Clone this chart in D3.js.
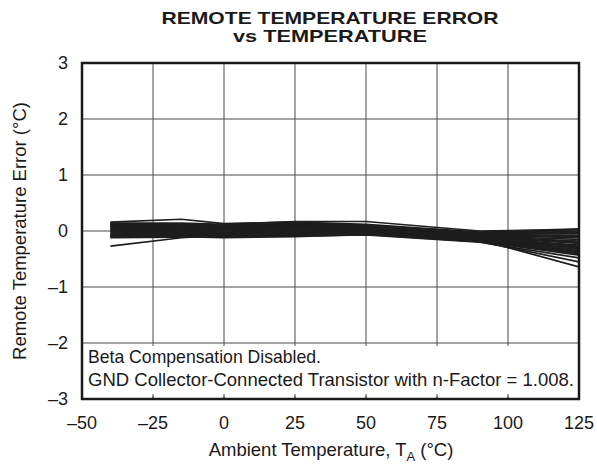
<!DOCTYPE html>
<html><head><meta charset="utf-8">
<script src="https://cdn.jsdelivr.net/npm/d3@7"></script>
<style>body{margin:0;background:#fff}svg{display:block}text{font-family:"Liberation Sans",Arial,sans-serif;fill:#1a1a1a}</style>
</head><body><svg id="c" width="597" height="466"></svg>
<script>
const temps = [-40, -15, 0, 25, 50, 90, 125];
const s01 = [0.16, 0.21, 0.13, 0.16, 0.12, -0.02, 0.04];
const s02 = [0.14, 0.14, 0.12, 0.17, 0.17, 0.00, 0.02];
const s03 = [0.13, 0.12, 0.10, 0.14, 0.10, -0.03, 0.00];
const s04 = [0.12, 0.11, 0.11, 0.13, 0.09, -0.04, -0.02];
const s05 = [0.10, 0.10, 0.08, 0.12, 0.08, -0.05, -0.05];
const s06 = [0.09, 0.09, 0.09, 0.10, 0.07, -0.06, -0.08];
const s07 = [0.08, 0.07, 0.06, 0.11, 0.06, -0.07, -0.10];
const s08 = [0.07, 0.08, 0.07, 0.09, 0.05, -0.08, -0.12];
const s09 = [0.05, 0.06, 0.04, 0.08, 0.05, -0.09, -0.15];
const s10 = [0.04, 0.04, 0.05, 0.06, 0.04, -0.10, -0.18];
const s11 = [0.03, 0.03, 0.02, 0.05, 0.03, -0.10, -0.20];
const s12 = [0.02, 0.01, 0.03, 0.04, 0.02, -0.11, -0.22];
const s13 = [0.00, 0.00, 0.00, 0.02, 0.01, -0.12, -0.25];
const s14 = [-0.01, -0.02, 0.01, 0.01, 0.00, -0.12, -0.27];
const s15 = [-0.02, -0.03, -0.02, 0.00, 0.00, -0.13, -0.29];
const s16 = [-0.04, -0.04, -0.03, -0.02, -0.01, -0.14, -0.31];
const s17 = [-0.05, -0.05, -0.05, -0.03, -0.02, -0.15, -0.33];
const s18 = [-0.06, -0.07, -0.06, -0.04, -0.02, -0.16, -0.35];
const s19 = [-0.08, -0.06, -0.08, -0.06, -0.03, -0.17, -0.37];
const s20 = [-0.09, -0.08, -0.09, -0.07, -0.04, -0.18, -0.39];
const s21 = [-0.10, -0.09, -0.11, -0.08, -0.05, -0.18, -0.41];
const s22 = [-0.11, -0.10, -0.12, -0.10, -0.06, -0.19, -0.43];
const s23 = [-0.12, -0.11, -0.10, -0.09, -0.07, -0.20, -0.48];
const s24 = [-0.27, -0.12, -0.08, -0.05, -0.04, -0.19, -0.55];
const s25 = [0.11, 0.09, 0.07, 0.08, 0.06, -0.16, -0.64];
const s26 = [0.06, 0.05, 0.06, 0.07, 0.03, -0.11, -0.30];
const series = [s01,s02,s03,s04,s05,s06,s07,s08,s09,s10,s11,s12,s13,s14,s15,s16,s17,s18,s19,s20,s21,s22,s23,s24,s25,s26];
const xTicks = [-50, -25, 0, 25, 50, 75, 100, 125];
const yTicks = [-3, -2, -1, 0, 1, 2, 3];
const titleLines = ["REMOTE TEMPERATURE ERROR", "vs TEMPERATURE"];
const notes = ["Beta Compensation Disabled.", "GND Collector-Connected Transistor with n-Factor = 1.008."];

const svg = d3.select("#c");
const L = 82, R = 579, T = 63, B = 399;
const x = d3.scaleLinear().domain([-50, 125]).range([L, R]);
const y = d3.scaleLinear().domain([-3, 3]).range([B, T]);
const fmt = v => v < 0 ? "\u2013" + Math.abs(v) : String(v);

// grid
const g = svg.append("g");
g.selectAll(".vg").data(xTicks.slice(1, -1)).join("line")
  .attr("x1", d => x(d)).attr("x2", d => x(d)).attr("y1", T).attr("y2", B)
  .attr("stroke", "#4a4a4a").attr("stroke-width", 1);
g.selectAll(".hg").data(yTicks.slice(1, -1)).join("line")
  .attr("x1", L).attr("x2", R).attr("y1", d => y(d)).attr("y2", d => y(d))
  .attr("stroke", "#4a4a4a").attr("stroke-width", 1);

// annotation box (covers grid between -2 and -3)
svg.append("rect").attr("x", L + 1).attr("y", y(-2) + 3).attr("width", R - L - 2).attr("height", y(-3) - y(-2) - 6).attr("fill", "#fff");
svg.selectAll(".bt").data(xTicks.slice(1, -1)).join("line")
  .attr("x1", d => x(d)).attr("x2", d => x(d)).attr("y1", B).attr("y2", B - 5)
  .attr("stroke", "#4a4a4a");

notes.forEach((t, i) => svg.append("text").attr("x", L + 6).attr("y", 363 + i * 23)
  .attr("font-size", 18.5).attr("textLength", i === 0 ? 233 : 486).attr("lengthAdjust", "spacingAndGlyphs").text(t));

// lines
svg.append("clipPath").attr("id", "clip").append("rect").attr("x", L).attr("y", T).attr("width", R - L).attr("height", B - T);
const line = d3.line().x((d, i) => x(temps[i])).y(d => y(d));
svg.append("g").attr("clip-path", "url(#clip)").selectAll("path").data(series).join("path")
  .attr("d", line).attr("fill", "none").attr("stroke", "#1e1e1e").attr("stroke-width", 1.7)
  .attr("stroke-linejoin", "round");

// frame
svg.append("rect").attr("x", L).attr("y", T).attr("width", R - L).attr("height", B - T)
  .attr("fill", "none").attr("stroke", "#1a1a1a").attr("stroke-width", 2.5);

// axes labels
svg.selectAll(".xl").data(xTicks).join("text").attr("x", d => x(d)).attr("y", 429)
  .attr("text-anchor", "middle").attr("font-size", 18).text(fmt);
svg.selectAll(".yl").data(yTicks).join("text").attr("x", 68).attr("y", d => y(d) + 6)
  .attr("text-anchor", "end").attr("font-size", 18).text(fmt);

// x title
const xt = svg.append("text").attr("x", 331).attr("y", 456).attr("text-anchor", "middle").attr("font-size", 18.5);
xt.append("tspan").text("Ambient Temperature, T");
xt.append("tspan").attr("font-size", 13).attr("dy", 5).text("A");
xt.append("tspan").attr("dy", -5).text(" (\u00B0C)");

// y title
svg.append("text").attr("transform", "translate(26,231) rotate(-90)").attr("text-anchor", "middle")
  .attr("font-size", 18.5).text("Remote Temperature Error (\u00B0C)");

// title
svg.append("text").attr("x", 330).attr("y", 23.5).attr("text-anchor", "middle").attr("font-size", 17)
  .attr("font-weight", "bold").attr("textLength", 337).attr("lengthAdjust", "spacingAndGlyphs").text(titleLines[0]);
svg.append("text").attr("x", 330).attr("y", 42).attr("text-anchor", "middle").attr("font-size", 17)
  .attr("font-weight", "bold").attr("textLength", 194).attr("lengthAdjust", "spacingAndGlyphs").text(titleLines[1]);
</script></body></html>
